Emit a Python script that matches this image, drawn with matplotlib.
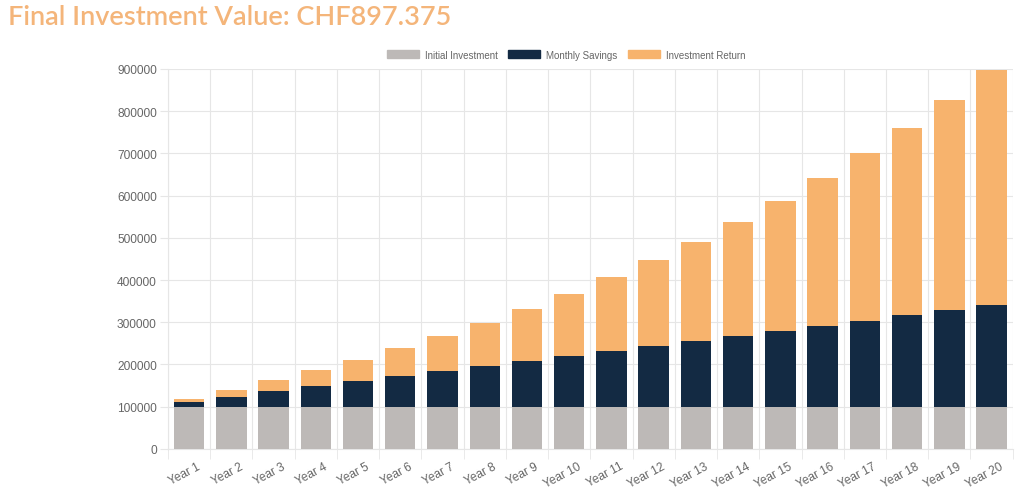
import numpy as np
import matplotlib.pyplot as plt
import matplotlib.transforms as mtransforms
from matplotlib.patches import Patch

plt.rcParams["font.family"] = ["Liberation Sans", "DejaVu Sans"]

years = [f"Year {i}" for i in range(1, 21)]
initial = [100000] * 20
savings = [12000, 24000, 36000, 48000, 60000, 72000, 84000, 96000, 108000, 120000,
           132000, 144000, 156000, 168000, 180000, 192000, 204000, 216000, 228000, 240000]
returns = [6000, 15000, 26000, 38000, 51000, 67000, 84000, 103000, 124000, 148000,
           174000, 203000, 235000, 270000, 308000, 350000, 396000, 445000, 499000, 557375]

c_init = "#bdb9b7"
c_save = "#132a43"
c_ret = "#f7b36d"
grid_c = "#e6e6e6"
text_c = "#666666"

fig = plt.figure(figsize=(10.24, 4.89), dpi=100)
ax = fig.add_axes([0.164, 0.080, 0.825, 0.777])

x = np.arange(len(years))
w = 0.72
ax.bar(x, initial, w, color=c_init, zorder=3)
ax.bar(x, savings, w, bottom=initial, color=c_save, zorder=3)
bottom2 = np.array(initial) + np.array(savings)
ax.bar(x, returns, w, bottom=bottom2, color=c_ret, zorder=3)

ax.set_xlim(-0.5, len(years) - 0.5)
ax.set_ylim(0, 900000)
ax.set_yticks(np.arange(0, 900001, 100000))
ax.set_yticklabels([str(v) for v in range(0, 900001, 100000)])
ax.set_xticks(x)
ax.set_xticklabels(years, rotation=28, ha="right", rotation_mode="anchor")
ax.set_xticks(np.arange(-0.5, len(years)), minor=True)

ax.tick_params(axis="x", which="major", length=0, pad=8, labelsize=8.6, labelcolor=text_c)
ax.tick_params(axis="x", which="minor", length=7, color=grid_c)
ax.tick_params(axis="y", length=6, color=grid_c, labelsize=8.6, labelcolor=text_c, pad=2)
shift = mtransforms.ScaledTranslation(8 / 100, 0, fig.dpi_scale_trans)
for lab in ax.get_xticklabels():
    lab.set_transform(lab.get_transform() + shift)
ax.grid(True, axis="y", color=grid_c, linewidth=0.8, zorder=0)
ax.grid(True, axis="x", which="minor", color=grid_c, linewidth=0.8, zorder=0)
for s in ["top", "right"]:
    ax.spines[s].set_visible(False)
for s in ["left", "bottom"]:
    ax.spines[s].set_color(grid_c)

handles = [Patch(color=c_init, label="Initial Investment"),
           Patch(color=c_save, label="Monthly Savings"),
           Patch(color=c_ret, label="Investment Return")]
fig.legend(handles=handles, loc="center", bbox_to_anchor=(0.553, 0.886), ncol=3,
           frameon=False, fontsize=7, labelcolor=text_c, handlelength=3.3,
           handleheight=0.9, columnspacing=1.1, handletextpad=0.6)

fig.text(0.008, 0.965, "Final Investment Value: CHF897.375", fontsize=19.5,
         color="#f4b57a", fontweight="semibold", family="Lato", va="center", ha="left")

fig.savefig("out.png", dpi=100)
